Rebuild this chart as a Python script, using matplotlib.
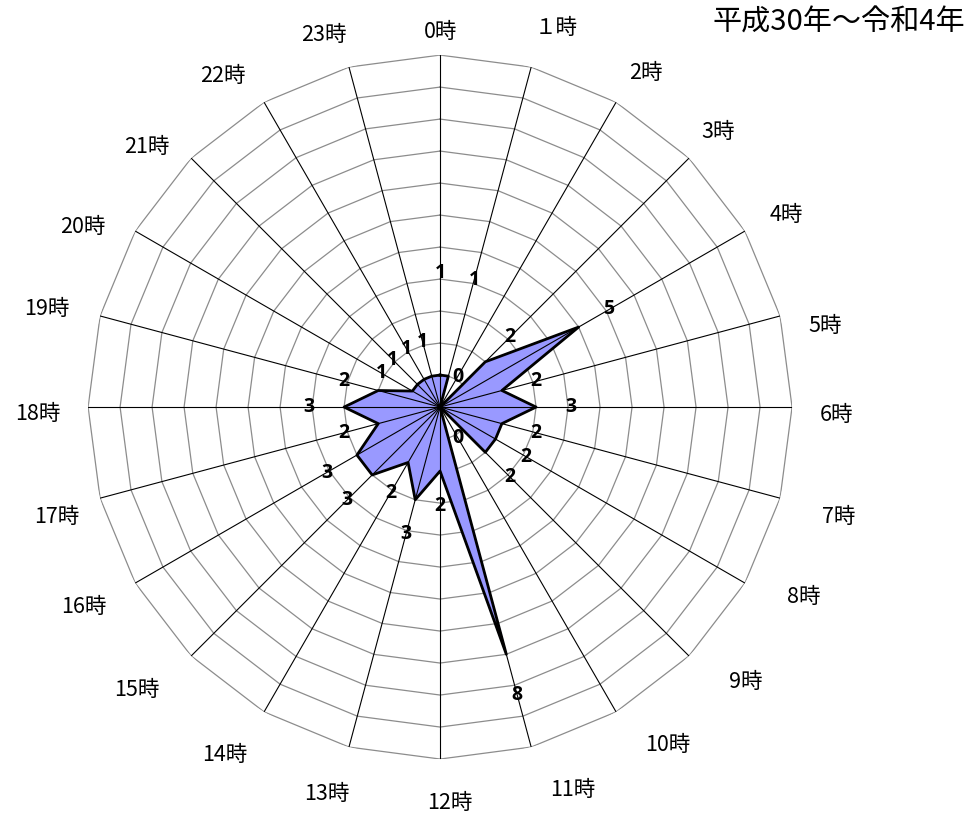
import numpy as np
import matplotlib.pyplot as plt

plt.rcParams['font.family'] = ['Noto Sans CJK JP', 'DejaVu Sans']

# 時間帯別件数（平成30年～令和4年）
hours = ['0時', '１時', '2時', '3時', '4時', '5時', '6時', '7時', '8時', '9時', '10時', '11時',
         '12時', '13時', '14時', '15時', '16時', '17時', '18時', '19時', '20時', '21時', '22時', '23時']
counts = [1, 1, 0, 2, 5, 2, 3, 2, 2, 2, 0, 8,
          2, 3, 2, 3, 3, 2, 3, 2, 1, 1, 1, 1]
title = '平成30年～令和4年'

r_max = 11
n = len(hours)
theta = np.arange(n) * 2 * np.pi / n
theta_closed = np.append(theta, theta[0])

fig = plt.figure(figsize=(9.72, 8.16), dpi=100)
ax = fig.add_axes([0.0906, 0.0698, 0.7243, 0.8627], projection='polar')
ax.set_theta_zero_location('N')
ax.set_theta_direction(-1)
ax.set_ylim(0, r_max)
ax.set_axis_off()

# 多角形の目盛り線
for k in range(1, r_max + 1):
    ax.plot(theta_closed, [k] * (n + 1), color='#8c8c8c', lw=0.9, zorder=1)

# データ
vals = np.append(counts, counts[0])
ax.fill(theta_closed, vals, color='#9999ff', zorder=2)

# 放射線
for t in theta:
    ax.plot([t, t], [0, r_max], color='black', lw=0.8, zorder=3)

ax.plot(theta_closed, vals, color='black', lw=2, zorder=4)

# データラベル
extra = {0: 2.1, 1: 2.0, 11: 0.2}
for i, (t, v) in enumerate(zip(theta, counts)):
    r = v + 1.1 + extra.get(i, 0)
    ax.text(t, r, str(v), ha='center', va='center', fontsize=14,
            fontweight='bold', family=['Open Sans', 'DejaVu Sans'], zorder=5)

# 時刻ラベル（位置の微調整, px: 右・下が正）
nudge = [(0, 14), (-3, -3), (0, 4), (-6, 3), (3, 8), (4, 28), (2, 8), (17, 1),
         (20, -10), (22, -3), (16, 0), (12, 7), (10, 7), (7, 11), (-4, 10), (-14, 5),
         (-7, 0), (4, 1), (-2, 7), (-6, 11), (-8, 20), (-4, 18), (-6, 7), (4, 4)]
for i, (t, lab) in enumerate(zip(theta, hours)):
    s, c = np.sin(t), np.cos(t)
    ha = 'left' if s > 0.1 else ('right' if s < -0.1 else 'center')
    va = 'bottom' if c > 0.1 else ('top' if c < -0.1 else 'center')
    dx, dy = nudge[i]
    ax.annotate(lab, (t, 11.8), xytext=(dx * 0.72, -dy * 0.72),
                textcoords='offset points', ha=ha, va=va, fontsize=15.5,
                annotation_clip=False)

fig.text(0.993, 0.972, title, ha='right', va='center', fontsize=21)

fig.savefig('out.png', dpi=100)
